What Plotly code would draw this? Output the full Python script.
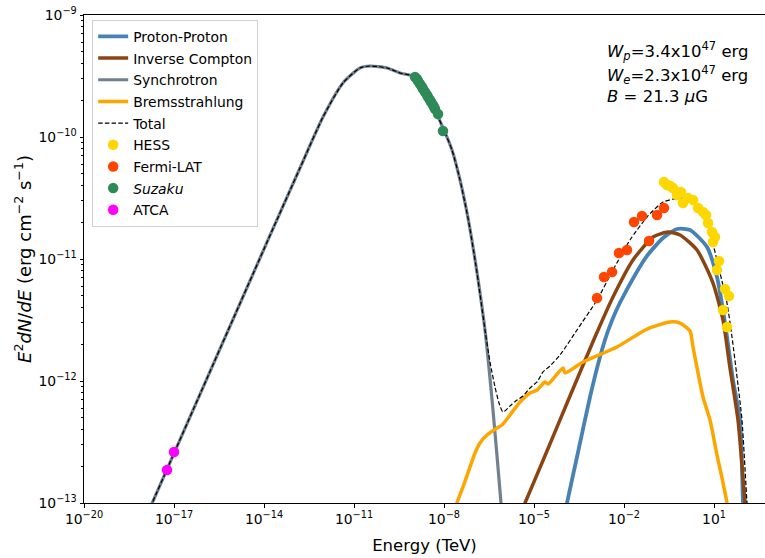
import numpy as np
import plotly.graph_objects as go

# ---- model curves (log10 E [TeV], log10 E^2 dN/dE [erg cm^-2 s^-1]) ----
pp_logE = [-3.97, -3.90, -3.567, -3.133, -2.80, -2.533, -2.267, -1.967, -1.233, -0.70, -0.233,
           0.20, 0.767, 1.10, 1.30, 1.433, 1.633, 1.867, 1.967, 2.03]
pp_logF = [-13.10, -13.0, -12.623, -12.131, -11.803, -11.590, -11.426, -11.279, -10.975,
           -10.828, -10.754, -10.762, -10.902, -11.148, -11.418, -11.639, -11.992, -12.320,
           -13.0, -13.25]

ic_logE = [-5.467, -5.30, -4.567, -3.80, -2.967, -2.367, -1.70, -1.033, -0.533, -0.133, 0.433,
           0.967, 1.30, 1.533, 1.80, 2.033, 2.10]
ic_logF = [-13.098, -13.0, -12.574, -12.123, -11.639, -11.311, -11.008, -10.820, -10.779,
           -10.803, -10.926, -11.197, -11.50, -11.893, -12.320, -13.0, -13.22]

sync_logE = [-17.80, -16.967, -13.867, -12.80, -12.033, -11.367, -10.80, -10.467, -9.90, -9.467,
             -8.967, -8.467, -8.033, -7.733, -7.467, -7.20, -6.933, -6.633, -6.367, -6.10, -5.967]
sync_logF = [-13.041, -12.574, -10.844, -10.254, -9.836, -9.557, -9.434, -9.418, -9.434, -9.475,
             -9.508, -9.697, -9.926, -10.107, -10.352, -10.664, -11.057, -11.582, -12.238,
             -13.0, -13.426]

brem_logE = [-7.733, -7.567, -7.367, -7.133, -6.967, -6.80, -6.567, -6.233, -6.067, -5.80,
             -5.467, -5.133, -4.90, -4.633, -4.533, -4.033, -3.967, -3.367, -2.233, -1.233,
             -0.467, -0.133, 0.20, 0.30, 0.633, 0.867, 1.10, 1.267, 1.433, 1.533]
brem_logF = [-13.221, -13.0, -12.869, -12.705, -12.590, -12.508, -12.443, -12.385, -12.361,
             -12.279, -12.172, -12.098, -12.074, -12.008, -12.025, -11.893, -11.934, -11.844,
             -11.721, -11.574, -11.516, -11.525, -11.590, -11.721, -12.131, -12.320, -12.607,
             -12.795, -13.0, -13.221]

total_logE = [-17.80, -16.967, -13.867, -12.80, -12.033, -11.367, -10.80, -10.467, -9.90, -9.467,
              -8.967, -8.467, -8.033, -7.733, -7.467, -7.20, -6.933, -6.633, -6.467, -6.30,
              -6.167, -6.033, -5.80, -5.567, -5.367, -5.133, -4.90, -4.70, -4.467, -4.133,
              -3.567, -2.90, -2.367, -1.80, -1.233, -0.70, -0.133, 0.20, 0.533, 0.867, 1.20,
              1.433, 1.60, 1.80, 1.933, 2.10, 2.167]
total_logF = [-13.041, -12.574, -10.844, -10.254, -9.836, -9.557, -9.434, -9.418, -9.434, -9.475,
              -9.508, -9.697, -9.926, -10.107, -10.352, -10.664, -11.057, -11.582, -11.844,
              -12.049, -12.180, -12.254, -12.205, -12.156, -12.123, -12.057, -12.008, -11.926,
              -11.877, -11.787, -11.582, -11.336, -11.090, -10.844, -10.656, -10.533, -10.50,
              -10.516, -10.598, -10.787, -11.115, -11.361, -11.639, -12.033, -12.320, -13.0,
              -13.221]

# ---- measured fluxes ----
hess_logE = [-0.667, -0.567, -0.467, -0.367, -0.233, -0.10, -0.033, 0.133, 0.30, 0.467, 0.633,
             0.733, 0.80, 0.933, 1.033, 0.967, 1.167, 1.10, 1.367, 1.50, 1.30, 1.433]
hess_logF = [-10.369, -10.393, -10.40, -10.418, -10.475, -10.45, -10.541, -10.50, -10.516,
             -10.582, -10.615, -10.639, -10.705, -10.779, -10.820, -10.861, -11.016, -11.090,
             -11.246, -11.303, -11.418, -11.557]

fermi_logE = [-2.90, -2.667, -2.40, -2.167, -1.90, -1.667, -1.40, -1.167, -0.90, -0.667]
fermi_logF = [-11.320, -11.148, -11.107, -10.951, -10.926, -10.697, -10.648, -10.852, -10.639,
              -10.582]

suzaku_logE = [-8.967, -8.90, -8.867, -8.80, -8.733, -8.70, -8.633, -8.567, -8.533, -8.467,
               -8.433, -8.367, -8.333, -8.30, -8.20, -8.033]
suzaku_logF = [-9.508, -9.525, -9.541, -9.566, -9.590, -9.607, -9.631, -9.656, -9.672, -9.697,
               -9.713, -9.738, -9.754, -9.770, -9.811, -9.951]

atca_logE = [-17.233, -17.0]
atca_logF = [-12.730, -12.582]

x_tick_exp = [-20, -17, -14, -11, -8, -5, -2, 1]
y_tick_exp = [-13, -12, -11, -10, -9]

FONT = "DejaVu Sans"


def p10(a):
    return np.power(10.0, np.asarray(a, dtype=float))


fig = go.Figure()

curves = [
    ("Proton-Proton", pp_logE, pp_logF, "#4682B4", 3.8),
    ("Inverse Compton", ic_logE, ic_logF, "#8B4513", 3.5),
    ("Synchrotron", sync_logE, sync_logF, "#708090", 3.2),
    ("Bremsstrahlung", brem_logE, brem_logF, "#FFA500", 3.5),
]
for i, (name, lx, ly, col, w) in enumerate(curves):
    fig.add_trace(go.Scatter(
        x=p10(lx), y=p10(ly), mode="lines", name=name,
        line=dict(color=col, width=w, shape="spline", smoothing=0.6),
        legendgroup=f"g{i}"))

fig.add_trace(go.Scatter(
    x=p10(total_logE), y=p10(total_logF), mode="lines", name="Total",
    line=dict(color="black", width=1.2, dash="4.5px,2.2px", shape="spline", smoothing=0.6),
    legendgroup="g4"))

points = [
    ("HESS", hess_logE, hess_logF, "#FFD700"),
    ("Fermi-LAT", fermi_logE, fermi_logF, "#FF4500"),
    ("<i>Suzaku</i>", suzaku_logE, suzaku_logF, "#2E8B57"),
    ("ATCA", atca_logE, atca_logF, "#FF00FF"),
]
for j, (name, lx, ly, col) in enumerate(points):
    fig.add_trace(go.Scatter(
        x=p10(lx), y=p10(ly), mode="markers", name=name,
        marker=dict(color=col, size=10.5, line=dict(width=0)),
        legendgroup=f"g{5 + j}"))

ytick_minor = [m * 10.0 ** e for e in range(-13, -9) for m in range(2, 10)]

fig.update_layout(
    width=765, height=558,
    margin=dict(l=84, r=0, t=15, b=55),
    paper_bgcolor="white", plot_bgcolor="white",
    font=dict(family=FONT, size=14, color="black"),
    showlegend=True,
    legend=dict(
        x=0.012, y=0.99, xanchor="left", yanchor="top",
        bgcolor="white", bordercolor="#d0d0d0", borderwidth=1,
        font=dict(family=FONT, size=13.9), tracegroupgap=0.6,
        itemwidth=30),
    xaxis=dict(
        type="log", range=[-20, 2.7],
        tickvals=[10.0 ** e for e in x_tick_exp],
        ticktext=[f"10<sup>{'−' if e < 0 else ''}{abs(e)}</sup>" for e in x_tick_exp],
        ticks="outside", ticklen=3.5, tickwidth=0.8, tickcolor="black",
        showline=True, linecolor="black", linewidth=1, mirror=True,
        showgrid=False, zeroline=False,
        tickfont=dict(family=FONT, size=13.9),
        title=dict(text="Energy (TeV)", font=dict(family=FONT, size=16.5), standoff=13),
    ),
    yaxis=dict(
        type="log", range=[-13, -9],
        tickvals=[10.0 ** e for e in y_tick_exp],
        ticktext=[f"10<sup>−{abs(e)}</sup>" for e in y_tick_exp],
        ticks="outside", ticklen=3.5, tickwidth=0.8, tickcolor="black",
        minor=dict(tickvals=ytick_minor, ticks="outside", ticklen=2, tickwidth=0.6,
                   tickcolor="black", showgrid=False),
        showline=True, linecolor="black", linewidth=1, mirror=False,
        showgrid=False, zeroline=False,
        tickfont=dict(family=FONT, size=13.9),
        title=dict(text="<i>E</i><sup>2</sup><i>dN</i>/<i>dE</i> (erg cm<sup>−2</sup> s<sup>−1</sup>)",
                   font=dict(family=FONT, size=18), standoff=2),
    ),
)

notes = [
    ("<i>W<sub>p</sub></i>=3.4x10<sup>47</sup> erg", 0.927),
    ("<i>W<sub>e</sub></i>=2.3x10<sup>47</sup> erg", 0.878),
    ("<i>B</i> = 21.3 <i>μ</i>G", 0.834),
]
for txt, yy in notes:
    fig.add_annotation(text=txt, xref="paper", yref="paper", x=0.765, y=yy,
                       xanchor="left", yanchor="middle", showarrow=False,
                       font=dict(family=FONT, size=16.5, color="black"))

fig.write_html("out.html")
